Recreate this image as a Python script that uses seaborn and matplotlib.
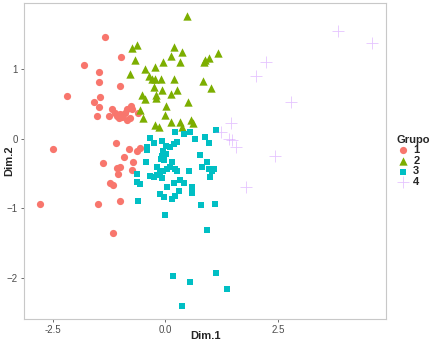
import pandas as pd
import matplotlib
matplotlib.use("Agg")
import matplotlib.pyplot as plt
import seaborn as sns

# group 1 (red circles)
g1_x = [-1.33, -0.98, -1.80, -1.47, -1.46, -1.00, -2.19, -1.44, -1.58, -1.46, -1.18, -1.52,
        -1.24, -1.12, -1.06, -1.00, -1.02, -0.89, -0.85, -0.77, -0.74, -0.84, -0.78, -0.60,
        -0.95, -2.50, -1.10, -0.80, -0.63, -0.56, -0.92, -1.38, -0.71, -1.08, -1.00, -1.04,
        -0.73, -1.23, -1.15, -2.77, -1.50, -1.00, -1.15]
g1_y = [1.45, 1.17, 1.05, 0.96, 0.81, 0.75, 0.61, 0.60, 0.53, 0.45, 0.43, 0.32,
        0.33, 0.37, 0.33, 0.35, 0.29, 0.37, 0.43, 0.47, 0.43, 0.27, 0.30, 0.36,
        0.31, -0.15, -0.06, -0.15, -0.18, -0.13, -0.26, -0.35, -0.34, -0.42, -0.40, -0.50,
        -0.45, -0.63, -0.66, -0.93, -0.94, -0.89, -1.35]

# group 2 (green triangles)
g2_x = [0.49, -0.74, -0.63, 0.19, 0.37, -0.66, 0.13, 0.33, -0.06, 1.18, 0.86, 0.89, 0.98,
        -0.78, -0.45, -0.22, -0.36, -0.30, -0.22, -0.09, 0.19, 0.84, 1.01, -0.24, -0.07,
        0.26, 0.13, -0.21, -0.20, -0.52, -0.46, 0.02, 0.51, -0.56, -0.49, 0.00, -0.22,
        -0.14, 0.12, 0.33, 0.37, 0.56, 0.62]
g2_y = [1.75, 1.30, 1.34, 1.31, 1.24, 1.12, 1.18, 1.09, 1.10, 1.22, 1.09, 1.13, 1.15,
        0.93, 1.00, 1.03, 0.90, 0.86, 0.86, 0.86, 0.86, 0.82, 0.73, 0.74, 0.70,
        0.69, 0.64, 0.62, 0.58, 0.63, 0.57, 0.47, 0.52, 0.41, 0.30, 0.34, 0.19,
        0.17, 0.24, 0.24, 0.16, 0.27, 0.22]

# group 3 (cyan squares)
g3_x = [0.22, 0.41, 0.54, 1.12, 0.67, 0.89, 0.98, -0.33, -0.25, -0.41, -0.40,
        -0.07, 0.02, 0.11, 0.19, 0.26, -0.04, 0.02, -0.08, -0.10, -0.03, -0.42,
        0.15, 0.11, 0.22, 0.26, 0.04, -0.19, -0.11, -0.04, 0.76, 0.92, 0.82, 0.97,
        1.04, 1.09, 0.99, 0.52, -0.33, -0.26, -0.19, -0.07, -0.62, -0.63, -0.57,
        0.20, 0.33, 0.41, 0.04, 0.30, 0.22, 0.15, 0.60, 0.60, -0.11, -0.02,
        -0.61, 0.80, 1.11, 0.00, 0.93, 0.17, 0.54, 1.12, 1.36, 0.37]
g3_y = [0.09, 0.07, 0.10, 0.12, 0.00, 0.02, -0.07, 0.01, -0.06, -0.12, -0.17,
        -0.04, -0.10, -0.12, -0.08, -0.05, -0.18, -0.22, -0.25, -0.29, -0.31, -0.33,
        -0.34, -0.41, -0.44, -0.47, -0.44, -0.41, -0.48, -0.46, -0.23, -0.33, -0.40, -0.44,
        -0.47, -0.43, -0.55, -0.47, -0.53, -0.55, -0.52, -0.57, -0.51, -0.62, -0.65,
        -0.64, -0.60, -0.63, -0.70, -0.75, -0.82, -0.87, -0.70, -0.78, -0.80, -0.84,
        -0.89, -0.95, -0.93, -1.10, -1.31, -1.97, -2.05, -1.92, -2.16, -2.40]

# group 4 (purple crosses)
g4_x = [3.83, 4.58, 2.23, 2.01, 2.79, 1.45, 1.23, 1.41, 1.49, 1.56, 2.44, 1.79]
g4_y = [1.54, 1.37, 1.10, 0.90, 0.53, 0.23, 0.10, 0.00, -0.02, -0.12, -0.25, -0.69]

groups = ["1", "2", "3", "4"]
colors = ["#F8766D", "#7CAE00", "#00BFC4", "#C77CFF"]

df = pd.concat([
    pd.DataFrame({"Dim.1": g1_x, "Dim.2": g1_y, "Grupo": "1"}),
    pd.DataFrame({"Dim.1": g2_x, "Dim.2": g2_y, "Grupo": "2"}),
    pd.DataFrame({"Dim.1": g3_x, "Dim.2": g3_y, "Grupo": "3"}),
    pd.DataFrame({"Dim.1": g4_x, "Dim.2": g4_y, "Grupo": "4"}),
])

sns.set_style("white")
plt.rcParams["font.family"] = ["Liberation Sans", "DejaVu Sans"]

fig = plt.figure(figsize=(4.31, 3.45), dpi=100)
ax = fig.add_axes([0.056, 0.076, 0.84, 0.915])

markers = {"1": "o", "2": "^", "3": "s", "4": "+"}
sizes = {"1": 27, "2": 36, "3": 23, "4": 70}
for g, c in zip(groups, colors):
    sub = df[df["Grupo"] == g]
    if g == "4":
        sns.scatterplot(data=sub, x="Dim.1", y="Dim.2", marker="+", color=c,
                        s=sizes[g], linewidth=0.6, alpha=0.45, label=g, ax=ax)
    else:
        sns.scatterplot(data=sub, x="Dim.1", y="Dim.2", marker=markers[g], color=c,
                        s=sizes[g], linewidth=0, label=g, ax=ax)

ax.set_xlim(-3.13, 4.9)
ax.set_ylim(-2.58, 1.94)
ax.set_xticks([-2.5, 0.0, 2.5])
ax.set_xticklabels(["-2.5", "0.0", "2.5"])
ax.set_yticks([-2, -1, 0, 1])
ax.tick_params(axis="both", labelsize=7, labelcolor="#4d4d4d", length=2.5,
               width=0.5, color="#333333", pad=2, direction="out")
ax.tick_params(bottom=True, left=True)
for s in ax.spines.values():
    s.set_color("#c8c8c8")
    s.set_linewidth(0.8)
ax.set_xlabel("Dim.1", fontsize=8, fontweight="bold")
ax.set_ylabel("Dim.2", fontsize=8, fontweight="bold")
ax.xaxis.set_label_coords(0.5, -0.04)
ax.yaxis.set_label_coords(-0.028, 0.5)

leg = ax.legend(title="Grupo", loc="center left", bbox_to_anchor=(1.01, 0.5),
                frameon=False, fontsize=8, title_fontsize=8, handletextpad=0.3,
                labelspacing=0.05, handlelength=1.2, borderaxespad=0.2)
leg.get_title().set_fontweight("bold")
leg._legend_box.align = "left"
for t in leg.get_texts():
    t.set_fontweight("bold")

plt.savefig("out.png", dpi=100)
